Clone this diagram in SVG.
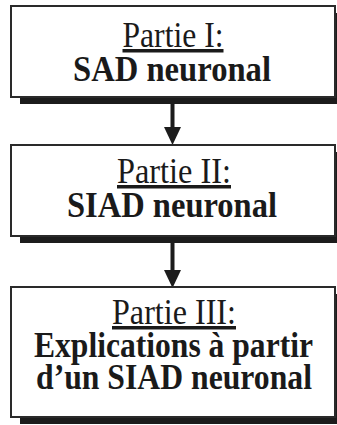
<svg xmlns="http://www.w3.org/2000/svg" width="337" height="425" viewBox="0 0 337 425">
<style>
.sh{fill:#1c1c1c}
.bx{fill:#fff;stroke:#2a2a2a;stroke-width:2}
.t{font-family:"Liberation Serif","Times New Roman",serif;fill:#1a1a1a;text-anchor:middle}
.u{font-size:35px;text-decoration:underline}
.b{font-size:35px;font-weight:bold}
.ar{fill:#1c1c1c}
</style>
<g id="connectors">
<rect class="ar" x="170.5" y="104" width="4" height="25"/>
<polygon class="ar" points="164,127 181,127 172.5,145"/>
<rect class="ar" x="170.5" y="243" width="4" height="28"/>
<polygon class="ar" points="164,270 181,270 172.5,288"/>
</g>
<g id="node1">
<rect class="sh" x="20" y="13" width="322" height="91"/>
<rect class="bx" x="11" y="6" width="324" height="91"/>
<text class="t u" x="173" y="47" textLength="101" lengthAdjust="spacingAndGlyphs">Partie I:</text>
<text class="t b" x="172" y="81" textLength="198" lengthAdjust="spacingAndGlyphs">SAD neuronal</text>
</g>
<g id="node2">
<rect class="sh" x="20" y="152" width="322" height="91"/>
<rect class="bx" x="11" y="145" width="324" height="91"/>
<text class="t u" x="174" y="183" textLength="114" lengthAdjust="spacingAndGlyphs">Partie II:</text>
<text class="t b" x="172" y="217" textLength="210" lengthAdjust="spacingAndGlyphs">SIAD neuronal</text>
</g>
<g id="node3">
<rect class="sh" x="20" y="294" width="322" height="130"/>
<rect class="bx" x="11" y="287" width="324" height="130"/>
<text class="t u" x="174" y="324" textLength="124" lengthAdjust="spacingAndGlyphs">Partie III:</text>
<text class="t b" x="173.5" y="357" textLength="279" lengthAdjust="spacingAndGlyphs">Explications à partir</text>
<text class="t b" x="174" y="389" textLength="276" lengthAdjust="spacingAndGlyphs">d’un SIAD neuronal</text>
</g>
</svg>
